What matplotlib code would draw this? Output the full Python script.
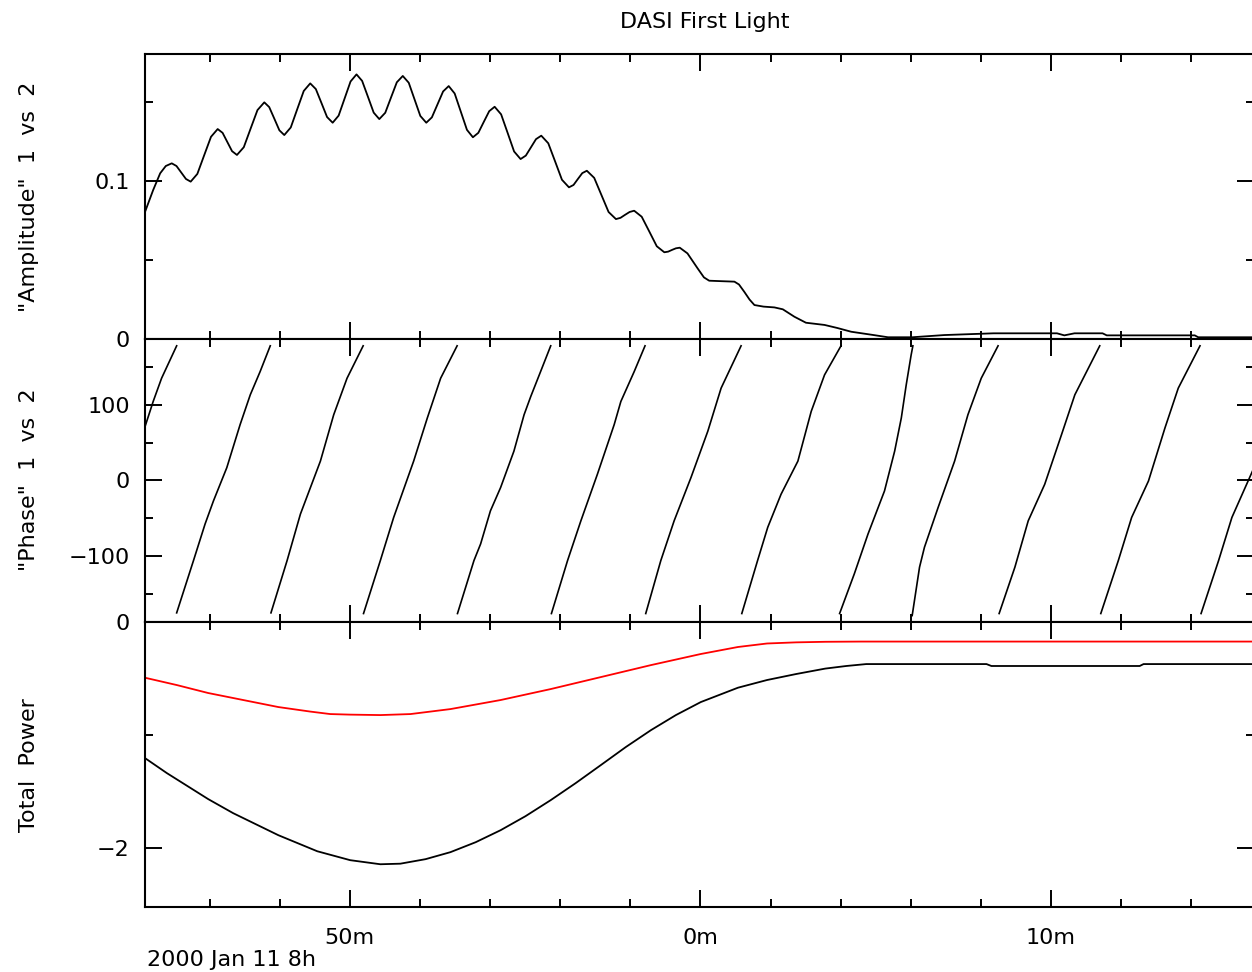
import numpy as np
import matplotlib
matplotlib.use("Agg")
import matplotlib.pyplot as plt
from matplotlib.ticker import FixedLocator, FixedFormatter

# ---------------- data (time in minutes after 2000 Jan 11 8h) ----------------
amp_t = [44.16, 44.39, 44.59, 44.75, 44.92, 45.055, 45.19, 45.325, 45.46, 45.65,
         45.845, 46.04, 46.23, 46.37, 46.505, 46.64, 46.78, 46.975, 47.17, 47.365,
         47.56, 47.70, 47.845, 47.99, 48.13, 48.315, 48.50, 48.685, 48.87, 49.03,
         49.19, 49.35, 49.51, 49.68, 49.85, 50.02, 50.19, 50.35, 50.515, 50.68,
         50.84, 51.01, 51.175, 51.34, 51.51, 51.68, 51.845, 52.01, 52.18, 52.34,
         52.50, 52.66, 52.82, 52.99, 53.165, 53.34, 53.51, 53.665, 53.82, 53.975,
         54.13, 54.315, 54.50, 54.685, 54.87, 55.02, 55.165, 55.31, 55.46, 55.66,
         55.855, 56.05, 56.25, 56.38, 56.505, 56.63, 56.76, 56.97, 57.175, 57.38,
         57.59, 57.72, 57.85, 57.98, 58.11, 58.325, 58.54, 58.755, 58.97, 59.08,
         59.19, 59.30, 59.41, 59.63, 59.92, 60.10, 60.25, 60.60, 60.97, 61.10,
         61.25, 61.40, 61.54, 61.80, 62.11, 62.35, 62.68, 63.01, 63.54, 63.90,
         64.30, 64.94, 65.35, 66.04, 66.96, 68.36, 69.27, 70.17, 70.38, 70.67,
         71.47, 71.59, 74.10, 74.20, 75.79]
amp_v = [0.0806, 0.0943, 0.1049, 0.1095, 0.1112, 0.1095, 0.1054, 0.1013, 0.0996, 0.1045,
         0.1163, 0.1280, 0.1329, 0.1305, 0.1247, 0.1189, 0.1165, 0.1214, 0.1332, 0.1449,
         0.1498, 0.1468, 0.1395, 0.1321, 0.1291, 0.1339, 0.1455, 0.1570, 0.1618, 0.1582,
         0.1494, 0.1405, 0.1369, 0.1414, 0.1522, 0.1630, 0.1675, 0.1634, 0.1534, 0.1433,
         0.1392, 0.1432, 0.1529, 0.1625, 0.1665, 0.1622, 0.1517, 0.1412, 0.1369, 0.1403,
         0.1485, 0.1567, 0.1601, 0.1554, 0.1439, 0.1324, 0.1277, 0.1305, 0.1374, 0.1442,
         0.1470, 0.1422, 0.1305, 0.1187, 0.1139, 0.1161, 0.1213, 0.1265, 0.1287, 0.1239,
         0.1124, 0.1008, 0.0960, 0.0975, 0.1013, 0.1050, 0.1065, 0.1020, 0.0912, 0.0804,
         0.0759, 0.0767, 0.0786, 0.0804, 0.0812, 0.0774, 0.0681, 0.0587, 0.0549, 0.0553,
         0.0564, 0.0574, 0.0578, 0.0542, 0.0447, 0.0390, 0.0369, 0.0366, 0.0363, 0.0345,
         0.0299, 0.0250, 0.0215, 0.0205, 0.0200, 0.0188, 0.0141, 0.0103, 0.0089, 0.0070,
         0.0046, 0.0025, 0.0011, 0.0011, 0.0025, 0.0036, 0.0036, 0.0036, 0.0023, 0.0036,
         0.0036, 0.0023, 0.0023, 0.0011, 0.0011]

phase_t = [44.16, 44.39, 44.63, 45.06,
           45.06, 45.54, 45.87, 46.11, 46.49, 46.87, 47.16, 47.44, 47.73,
           47.75, 48.21, 48.59, 49.16, 49.54, 49.92, 50.38,
           50.39, 50.87, 51.25, 51.82, 52.21, 52.59, 53.06,
           53.07, 53.54, 53.73, 54.01, 54.30, 54.68, 54.97, 55.16, 55.44, 55.73,
           55.75, 56.21, 56.59, 57.06, 57.54, 57.73, 58.11, 58.42,
           58.44, 58.87, 59.25, 59.73, 60.21, 60.59, 61.16,
           61.18, 61.63, 61.92, 62.30, 62.78, 63.16, 63.54, 64.01,
           63.97, 64.39, 64.78, 65.25, 65.54, 65.73, 65.87, 66.01, 66.06,
           66.04, 66.25, 66.39, 66.78, 67.25, 67.63, 68.01, 68.49,
           68.52, 68.97, 69.35, 69.82, 70.30, 70.68, 71.39,
           71.42, 71.92, 72.30, 72.78, 73.25, 73.63, 74.25,
           74.28, 74.78, 75.16, 75.79]
phase_v = [71.4, 104.3, 135.1, 178.0,
           -175.4, -106.2, -57.9, -27.2, 16.7, 73.7, 113.2, 143.8, 178.0,
           -175.4, -106.2, -44.7, 25.4, 86.8, 135.1, 178.0,
           -176.3, -106.2, -49.1, 25.4, 82.5, 135.1, 178.0,
           -176.3, -106.2, -84.2, -40.4, -9.6, 38.6, 86.8, 110.9, 143.8, 178.0,
           -176.3, -106.2, -53.6, 7.9, 73.7, 104.3, 143.8, 178.0,
           -176.3, -106.2, -53.6, 3.6, 64.9, 122.0, 178.0,
           -176.3, -106.2, -62.2, -18.4, 25.4, 91.2, 139.5, 178.0,
           -176.3, -123.7, -71.1, -14.1, 38.6, 82.5, 126.3, 165.8, 178.0,
           -179.0, -114.9, -88.6, -35.9, 25.4, 86.8, 135.1, 178.0,
           -176.3, -114.9, -53.6, -5.3, 60.5, 113.2, 178.0,
           -176.3, -106.2, -49.1, -0.9, 69.3, 122.0, 178.0,
           -176.3, -106.2, -49.1, 16.7]

tp_t = [44.16, 44.78, 45.96, 46.67, 47.96, 49.07, 50.01, 50.87, 51.44, 52.16,
        52.87, 53.59, 54.30, 55.01, 55.73, 56.44, 57.16, 57.87, 58.59, 59.30,
        60.01, 61.07, 61.90, 62.73, 63.56, 64.16, 64.73, 68.16, 68.30, 72.53,
        72.64, 75.79]
tp_black = [-1.204, -1.336, -1.566, -1.690, -1.885, -2.027, -2.106, -2.142, -2.137, -2.097,
            -2.035, -1.947, -1.841, -1.717, -1.575, -1.425, -1.265, -1.106, -0.956, -0.823,
            -0.708, -0.581, -0.513, -0.460, -0.412, -0.389, -0.372, -0.372, -0.389, -0.389,
            -0.372, -0.372]
tp_red_t = [44.16, 45.07, 45.96, 46.96, 47.96, 48.87, 49.44, 50.01, 50.87, 51.73,
            52.87, 54.30, 55.73, 57.16, 58.59, 60.01, 61.07, 61.90, 62.73, 63.56,
            64.59, 75.79]
tp_red = [-0.493, -0.558, -0.628, -0.690, -0.752, -0.792, -0.814, -0.819, -0.823, -0.814,
          -0.770, -0.690, -0.593, -0.487, -0.381, -0.283, -0.221, -0.190, -0.180, -0.175,
          -0.173, -0.173]

x_major = [50, 60, 70]
x_major_labels = ["50m", "0m", "10m"]
x_minor = [46, 48, 52, 54, 56, 58, 62, 64, 66, 68, 72, 74]

# ---------------- figure ----------------
W, H = 1252, 972
fig = plt.figure(figsize=(W / 100, H / 100), dpi=100)
plt.rcParams['font.family'] = ['DejaVu Sans']
FS = 16

left = 145 / W
width = (1254 - 145) / W

def ax_at(top_px, bot_px):
    return fig.add_axes([left, 1 - bot_px / H, width, (bot_px - top_px) / H])

ax1 = ax_at(54, 339)
ax2 = ax_at(339, 622)
ax3 = ax_at(622, 907)

for ax in (ax1, ax2, ax3):
    ax.set_xlim(44.157, 75.79)
    ax.xaxis.set_major_locator(FixedLocator(x_major))
    ax.xaxis.set_minor_locator(FixedLocator(x_minor))
    ax.tick_params(which='both', direction='in', top=True, right=True,
                   color='black', width=1.4, labelsize=FS)
    ax.tick_params(which='major', length=12)
    ax.tick_params(which='minor', length=6)
    ax.tick_params(axis='y', which='major', pad=11)
    for s in ax.spines.values():
        s.set_linewidth(1.5)
    ax.set_facecolor('white')

ax1.set_xticklabels([])
ax2.set_xticklabels([])
ax3.xaxis.set_major_formatter(FixedFormatter(x_major_labels))
ax3.tick_params(axis='x', which='major', pad=15)

# Amplitude
ax1.plot(amp_t, amp_v, color='black', lw=1.3)
ax1.set_ylim(0, 0.1804)
ax1.yaxis.set_major_locator(FixedLocator([0, 0.1]))
ax1.yaxis.set_major_formatter(FixedFormatter(["0", "0.1"]))
ax1.yaxis.set_minor_locator(FixedLocator([0.05, 0.15]))

# Phase (break at wraps)
pt = np.array(phase_t, dtype=float)
pv = np.array(phase_v, dtype=float)
xs, ys = [pt[0]], [pv[0]]
for i in range(1, len(pt)):
    if pv[i] - pv[i - 1] < -180:
        xs.append(np.nan); ys.append(np.nan)
    xs.append(pt[i]); ys.append(pv[i])
ax2.plot(xs, ys, color='black', lw=1.2)
ax2.set_ylim(-187.5, 187)
ax2.yaxis.set_major_locator(FixedLocator([-100, 0, 100]))
ax2.yaxis.set_major_formatter(FixedFormatter(["\u2212100", "0", "100"]))
ax2.yaxis.set_minor_locator(FixedLocator([-150, -50, 50, 150]))

# Total power
ax3.plot(tp_red_t, tp_red, color='#ff0000', lw=1.3)
ax3.plot(tp_t, tp_black, color='black', lw=1.3)
ax3.set_ylim(-2.52, 0)
ax3.yaxis.set_major_locator(FixedLocator([-2, 0]))
ax3.yaxis.set_major_formatter(FixedFormatter(["\u22122", "0"]))
ax3.yaxis.set_minor_locator(FixedLocator([-1]))

# texts
fig.text(705 / W, 1 - 22 / H, "DASI First Light", ha='center', va='center', fontsize=FS)
fig.text(29 / W, 1 - 197 / H, '"Amplitude"  1  vs  2', rotation=90, ha='center', va='center', fontsize=FS)
fig.text(29 / W, 1 - 480 / H, '"Phase"  1  vs  2', rotation=90, ha='center', va='center', fontsize=FS)
fig.text(29 / W, 1 - 765 / H, 'Total  Power', rotation=90, ha='center', va='center', fontsize=FS)
fig.text(147 / W, 1 - 950 / H, "2000 Jan 11 8h", ha='left', va='top', fontsize=FS)

fig.savefig("out.png", dpi=100, facecolor='white')
